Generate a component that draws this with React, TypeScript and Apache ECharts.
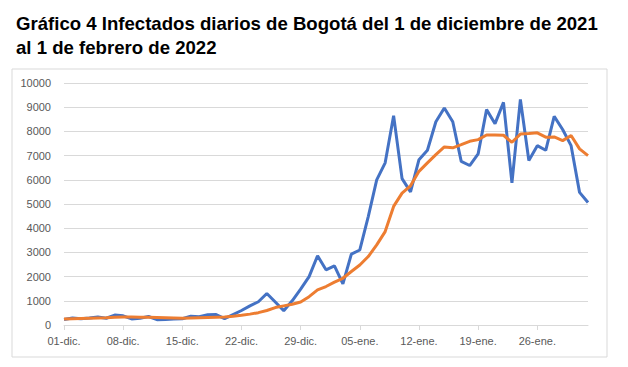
import React, { useEffect, useRef } from "react";
import * as echarts from "echarts";

const TITLE = "Gráfico 4 Infectados diarios de Bogotá del 1 de diciembre de 2021\nal 1 de febrero de 2022";

// Dates: 01-dic. .. 31-dic., 01-ene. .. 31-ene., 01-feb.
const MONTHS: [string, number][] = [["dic.", 31], ["ene.", 31], ["feb.", 1]];
const categories: string[] = [];
for (const [m, n] of MONTHS) {
  for (let d = 1; d <= n; d++) categories.push(String(d).padStart(2, "0") + "-" + m);
}

const dailyCases = [
  230, 290, 260, 290, 330, 280, 410, 380, 250, 280,
  350, 220, 230, 250, 260, 360, 340, 420, 430, 260,
  430, 600, 790, 960, 1300, 950, 590, 1000, 1480, 2000,
  2860, 2280, 2440, 1700, 2930, 3100, 4480, 6000, 6700, 8650,
  6050, 5500, 6830, 7220, 8400, 8970, 8400, 6760, 6590, 7070,
  8900, 8320, 9200, 5870, 9320, 6800, 7410, 7220, 8620, 8080,
  7410, 5480, 5060,
];

const movingAverage = [
  250, 260, 270, 280, 290, 300, 320, 330, 330, 320,
  320, 310, 300, 290, 280, 290, 300, 310, 320, 330,
  360, 400, 450, 510, 600, 720, 790, 860, 950, 1170,
  1450, 1590, 1770, 1930, 2210, 2480, 2830, 3310, 3860, 4900,
  5450, 5750, 6350, 6700, 7040, 7360, 7320, 7450, 7590, 7660,
  7850, 7850, 7840, 7550, 7890, 7910, 7940, 7760, 7770, 7620,
  7830, 7280, 7000,
];

const Y_MIN = 0;
const Y_MAX = 10000;
const Y_STEP = 1000;

export default function App() {
  const ref = useRef<HTMLDivElement>(null);
  useEffect(() => {
    if (!ref.current) return;
    const chart = echarts.init(ref.current, null, { renderer: "svg" });
    chart.setOption({
      animation: false,
      backgroundColor: "#ffffff",
      title: {
        text: TITLE,
        left: 11,
        top: 6,
        textStyle: {
          fontFamily: "Liberation Sans",
          fontSize: 18.6,
          fontWeight: "bold",
          color: "#000000",
          lineHeight: 24,
        },
      },
      graphic: [
        {
          type: "rect",
          shape: { x: 12, y: 69, width: 595, height: 288 },
          style: { fill: "none", stroke: "#d9d9d9", lineWidth: 1 },
          silent: true,
        },
      ],
      grid: { left: 64, right: 40, top: 83, bottom: 42, containLabel: false },
      xAxis: {
        type: "category",
        data: categories,
        boundaryGap: false,
        axisLine: { show: true, lineStyle: { color: "#d9d9d9" } },
        axisTick: { show: true, interval: 6, length: 5, lineStyle: { color: "#d9d9d9" } },
        axisLabel: {
          interval: 6,
          color: "#595959",
          fontFamily: "Liberation Sans",
          fontSize: 11,
          margin: 10,
        },
        splitLine: { show: false },
      },
      yAxis: {
        type: "value",
        min: Y_MIN,
        max: Y_MAX,
        interval: Y_STEP,
        axisLine: { show: false },
        axisTick: { show: false },
        axisLabel: {
          color: "#595959",
          fontFamily: "Liberation Sans",
          fontSize: 11,
          margin: 13,
          formatter: (v: number) => String(v),
        },
        splitLine: { lineStyle: { color: "#d9d9d9", width: 1 } },
      },
      series: [
        {
          name: "Casos diarios",
          type: "line",
          data: dailyCases,
          showSymbol: false,
          lineStyle: { color: "#4472c4", width: 3 },
          itemStyle: { color: "#4472c4" },
        },
        {
          name: "Media móvil",
          type: "line",
          data: movingAverage,
          showSymbol: false,
          lineStyle: { color: "#ed7d31", width: 3 },
          itemStyle: { color: "#ed7d31" },
        },
      ],
    });
    return () => chart.dispose();
  }, []);
  return (
    <div
      ref={ref}
      style={{ position: "fixed", left: 0, top: 0, width: 628, height: 367, background: "#fff" }}
    />
  );
}
